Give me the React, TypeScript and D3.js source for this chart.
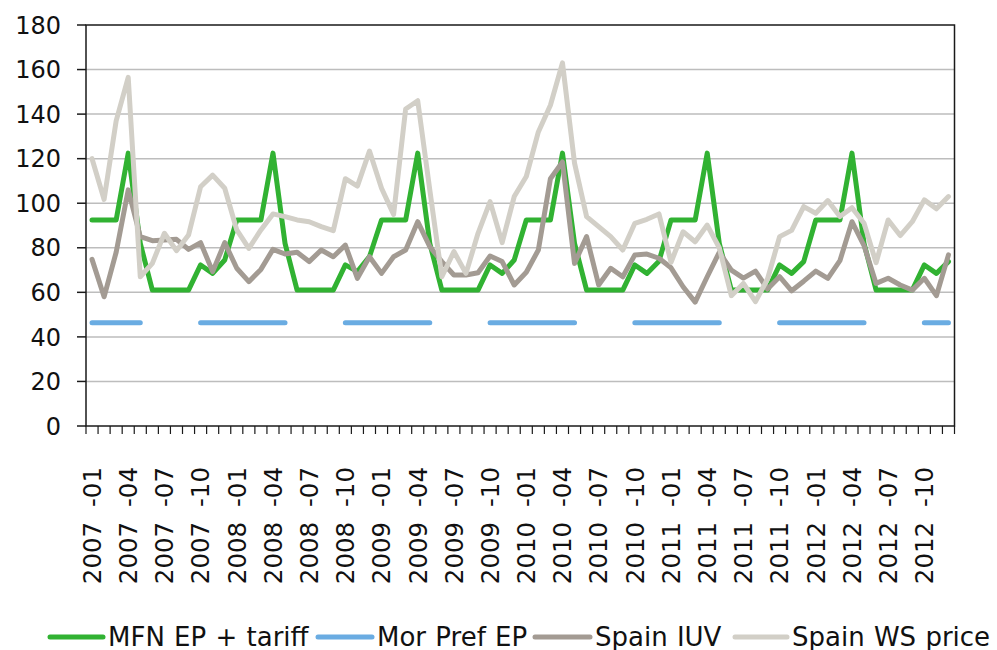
import React from 'react';
import * as d3 from 'd3';

const years = [2007, 2008, 2009, 2010, 2011, 2012];
const monthCodes = ['01', '02', '03', '04', '05', '06', '07', '08', '09', '10', '11', '12'];
const categories = years.flatMap((y) => monthCodes.map((m) => `${y} -${m}`));
const tickLabels = categories.filter((_, i) => i % 3 === 0);

const mfnEpTariff = [
  92.5, 92.5, 92.5, 122.5, 82, 61, 61, 61, 61, 72.3, 68.5, 74.5,
  92.5, 92.5, 92.5, 122.5, 82, 61, 61, 61, 61, 72.3, 69.3, 76,
  92.5, 92.5, 92.5, 122.5, 82, 61, 61, 61, 61, 72.3, 68.5, 74.5,
  92.5, 92.5, 92.5, 122.5, 82, 61, 61, 61, 61, 72.3, 68.5, 74,
  92.5, 92.5, 92.5, 122.5, 82, 61, 61, 61, 61, 72.3, 68.5, 73.8,
  92.5, 92.5, 92.5, 122.5, 82, 61, 61, 61, 61, 72.3, 68.5, 73.8,
];

const morPrefEp: (number | null)[] = [
  46.3, 46.3, 46.3, 46.3, 46.3, null, null, null, null, 46.3, 46.3, 46.3,
  46.3, 46.3, 46.3, 46.3, 46.3, null, null, null, null, 46.3, 46.3, 46.3,
  46.3, 46.3, 46.3, 46.3, 46.3, null, null, null, null, 46.3, 46.3, 46.3,
  46.3, 46.3, 46.3, 46.3, 46.3, null, null, null, null, 46.3, 46.3, 46.3,
  46.3, 46.3, 46.3, 46.3, 46.3, null, null, null, null, 46.3, 46.3, 46.3,
  46.3, 46.3, 46.3, 46.3, 46.3, null, null, null, null, 46.3, 46.3, 46.3,
];

const spainIuv = [
  74.8, 58, 78, 106, 85, 83.2, 83.5, 83.8, 79.3, 82.3, 69.3, 82.3,
  70.8, 64.8, 70.3, 79.3, 77.2, 78, 73.8, 79, 76, 81.2, 66.3, 76,
  68.5, 76, 79, 91.7, 80.5, 73.8, 67.8, 67.8, 68.8, 76.3, 73.8, 63.3,
  69, 79, 111, 118.5, 73, 85, 63.3, 70.8, 67, 76.8, 77.2, 75.3,
  71, 62.5, 55.6, 67, 78, 70, 66.4, 69.5, 61.5, 67, 60.7, 65,
  69.5, 66.3, 74.2, 91.7, 81, 64, 66.3, 63.3, 61, 66.3, 58.5, 76.8,
];

const spainWsPrice = [
  120, 101.7, 137, 156.5, 67, 73, 86.5, 78.7, 85.7, 107.4, 112.6, 106.7,
  88, 79.7, 88, 95.2, 94, 92.5, 91.7, 89.5, 87.7, 111, 107.7, 123.4,
  106.7, 95, 142.3, 146, 106, 67, 78.3, 68.5, 86.5, 100.7, 82.3, 103,
  112, 132, 144, 163, 118, 94, 89.5, 85, 79, 91, 92.8, 95.2,
  73.5, 87.2, 82.7, 90.2, 80, 58.5, 64, 55.8, 66, 85, 87.8, 98.5,
  95.5, 101.2, 94, 98, 91, 73.3, 92.5, 85.5, 91.7, 101.5, 97.5, 103,
];

const yTicks = [0, 20, 40, 60, 80, 100, 120, 140, 160, 180];

const seriesNames = ['MFN EP + tariff', 'Mor Pref EP', 'Spain IUV', 'Spain WS price'];
const seriesColors = ['#31B232', '#6AACE2', '#A39B93', '#D2CFC7'];
const seriesData: (number | null)[][] = [mfnEpTariff, morPrefEp, spainIuv, spainWsPrice];

const W = 997;
const H = 650;
const plot = { left: 86, right: 954.5, top: 25, bottom: 426 };
const FONT = "'DejaVu Sans', Verdana, sans-serif";

const legendPos = [
  { x1: 50, x2: 103, tx: 108 },
  { x1: 318, x2: 372, tx: 377 },
  { x1: 535, x2: 590, tx: 595 },
  { x1: 735, x2: 787, tx: 792 },
];

export default function App() {
  const x = d3.scaleBand<string>().domain(categories).range([plot.left, plot.right]).padding(0);
  const xc = (c: string) => (x(c) as number) + x.bandwidth() / 2;
  const y = d3.scaleLinear().domain([0, 180]).range([plot.bottom, plot.top]);

  const lineGen = d3
    .line<number | null>()
    .defined((d) => d != null)
    .x((_, i) => xc(categories[i]))
    .y((d) => y(d as number));

  const boundaries = d3.range(categories.length + 1).map((i) => plot.left + i * x.step());

  return (
    <svg
      width={W}
      height={H}
      style={{ position: 'absolute', left: 0, top: 0, background: '#fff' }}
      fontFamily={FONT}
    >
      <rect x={0} y={0} width={W} height={H} fill="#fff" />
      {yTicks.slice(1, -1).map((t) => (
        <line key={`g${t}`} x1={plot.left} x2={plot.right} y1={y(t)} y2={y(t)} stroke="#BDBDBD" strokeWidth={1.5} />
      ))}
      <rect
        x={plot.left}
        y={plot.top}
        width={plot.right - plot.left}
        height={plot.bottom - plot.top}
        fill="none"
        stroke="#1a1a1a"
        strokeWidth={1.5}
      />
      {yTicks.map((t) => (
        <g key={`y${t}`}>
          <line x1={plot.left - 9} x2={plot.left} y1={y(t)} y2={y(t)} stroke="#1a1a1a" strokeWidth={1.5} />
          <text x={61} y={y(t)} dy="0.36em" textAnchor="end" fontSize={24} fill="#111">
            {t}
          </text>
        </g>
      ))}
      {boundaries.map((bx, i) => (
        <line key={`xt${i}`} x1={bx} x2={bx} y1={plot.bottom} y2={plot.bottom + 8} stroke="#1a1a1a" strokeWidth={1.2} />
      ))}
      {tickLabels.map((c) => (
        <text
          key={`xl${c}`}
          transform={`translate(${xc(c)},${467}) rotate(-90)`}
          dy="0.36em"
          textAnchor="end"
          fontSize={24.5}
          wordSpacing={7}
          fill="#111"
        >
          {c}
        </text>
      ))}
      {seriesData.map((d, k) => (
        <path
          key={`s${k}`}
          d={lineGen(d) || ''}
          fill="none"
          stroke={seriesColors[k]}
          strokeWidth={5}
          strokeLinejoin="round"
          strokeLinecap="round"
        />
      ))}
      {seriesNames.map((n, k) => (
        <g key={`lg${k}`}>
          <line
            x1={legendPos[k].x1}
            x2={legendPos[k].x2}
            y1={637}
            y2={637}
            stroke={seriesColors[k]}
            strokeWidth={5}
            strokeLinecap="round"
          />
          <text x={legendPos[k].tx} y={637} dy="0.36em" fontSize={26} wordSpacing={1} fill="#111">
            {n}
          </text>
        </g>
      ))}
    </svg>
  );
}
